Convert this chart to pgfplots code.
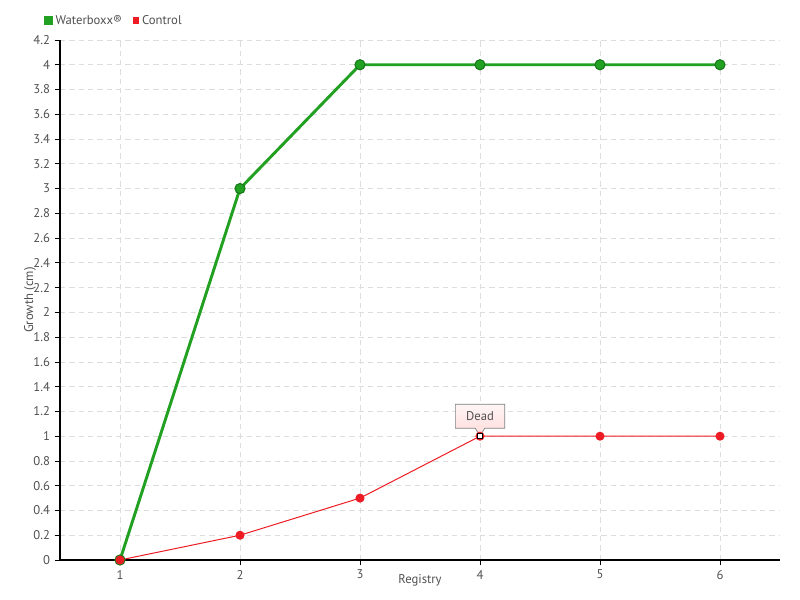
\documentclass[border=0pt]{standalone}
\usepackage{fontspec}
\setmainfont{PT Sans}
\usepackage{pgfplots}
\pgfplotsset{compat=1.18}
\usetikzlibrary{shapes.callouts}
\definecolor{wgreen}{RGB}{34,160,34}
\definecolor{wgreendark}{RGB}{24,120,24}
\definecolor{cred}{RGB}{237,28,36}
\definecolor{txt}{RGB}{80,80,80}
\definecolor{gridc}{RGB}{221,221,221}
\begin{document}
\begin{tikzpicture}[x=0.75pt,y=0.75pt]
\path[use as bounding box] (-60,-40) rectangle (740,560);
\begin{axis}[
  at={(0,0)}, anchor=south west,
  scale only axis, width=540pt, height=390pt,
  xmin=0.5, xmax=6.5, ymin=0, ymax=4.2,
  xtick={1,2,3,4,5,6},
  ytick={0,0.2,...,4.21},
  axis x line*=bottom, axis y line*=left,
  axis line style={black, line width=0.8pt},
  tick align=outside, major tick length=4pt,
  tick style={black, line width=0.6pt},
  grid=major,
  major grid style={gridc, dash pattern=on 4pt off 3pt, line width=0.6pt},
  /pgf/number format/assume math mode=true,
  yticklabel style={/pgf/number format/fixed, /pgf/number format/precision=1, font=\fontsize{9.5}{10}\selectfont, text=txt},
  xticklabel style={font=\fontsize{9.5}{10}\selectfont, text=txt},
  xlabel={Registry}, ylabel={Growth (cm)},
  xlabel style={at={(rel axis cs:0.5,0)}, anchor=center, yshift=-15pt, font=\fontsize{9.5}{10}\selectfont, text=txt},
  ylabel style={at={(rel axis cs:0,0.5)}, anchor=center, rotate=0, yshift=22.5pt, font=\fontsize{9.5}{10}\selectfont, text=txt},
  legend columns=2,
  legend style={at={(rel axis cs:0,1)}, anchor=south west, xshift=-12pt, yshift=8pt, draw=none, fill=none,
     font=\fontsize{9.5}{10}\selectfont, text=txt, inner sep=0pt,
     /tikz/every even column/.append style={column sep=6pt}},
  clip=false,
]
\addplot[wgreen, line width=2.2pt, mark=*, mark size=3.8pt,
  mark options={fill=wgreen, draw=wgreendark, line width=0.8pt},
  legend image code/.code={\fill[wgreen] (1pt,-2.2pt) rectangle (5.4pt,2.2pt);}]
  coordinates {(1,0) (2,3) (3,4) (4,4) (5,4) (6,4)};
\addlegendentry{Waterboxx®}
\addplot[cred, line width=0.75pt, mark=*, mark size=3pt,
  mark options={fill=cred, draw=cred},
  legend image code/.code={\fill[cred] (1pt,-2.2pt) rectangle (5.4pt,2.2pt);}]
  coordinates {(1,0) (2,0.2) (3,0.5) (4,1) (5,1) (6,1)};
\addlegendentry{Control}
\addplot[only marks, mark=square*, mark size=1.8pt, mark options={fill=white, draw=black, line width=0.8pt}, forget plot]
  coordinates {(4,1)};
\node[rectangle callout, draw=gray, line width=0.5pt, top color=red!4, bottom color=red!14,
  minimum width=37pt, minimum height=18pt, text=txt, font=\fontsize{9.5}{10}\selectfont,
  anchor=center, callout absolute pointer={(axis cs:4,1)}] at ([yshift=15pt]axis cs:4,1) {Dead};
\end{axis}
\end{tikzpicture}
\end{document}
